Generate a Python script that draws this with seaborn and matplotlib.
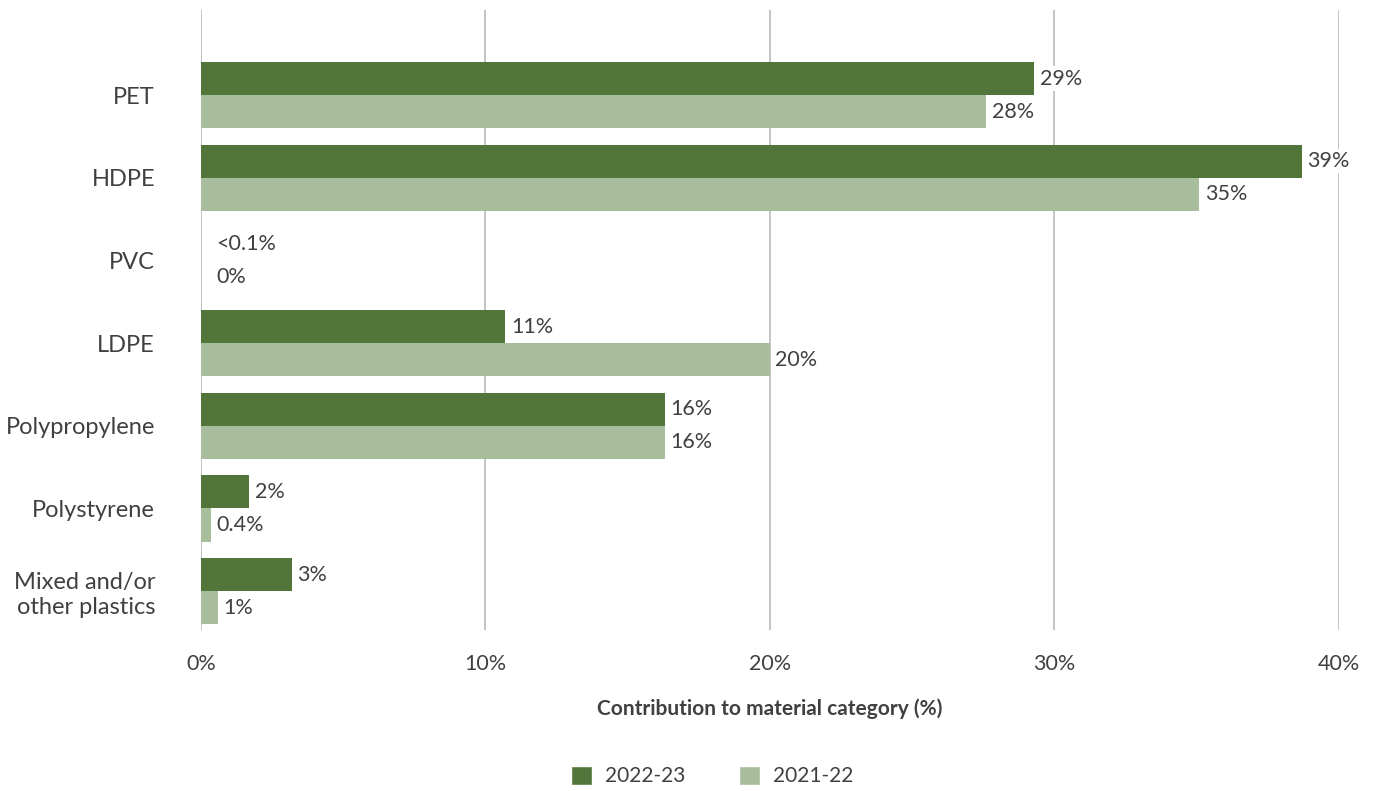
import numpy as np
import pandas as pd
import seaborn as sns
import matplotlib.pyplot as plt
from matplotlib.patches import Patch

categories = ["PET", "HDPE", "PVC", "LDPE", "Polypropylene", "Polystyrene",
              "Mixed and/or\nother plastics"]
vals_2223 = [29.3, 38.7, 0.0, 10.7, 16.3, 1.7, 3.2]
vals_2122 = [27.6, 35.1, 0.0, 20.0, 16.3, 0.35, 0.6]
labels_2223 = ["29%", "39%", "<0.1%", "11%", "16%", "2%", "3%"]
labels_2122 = ["28%", "35%", "0%", "20%", "16%", "0.4%", "1%"]
series = ["2022-23", "2021-22"]
xticks = [0, 10, 20, 30, 40]

dark = "#52763a"
light = "#a8bd9b"
txt = "#404040"

df = pd.DataFrame({
    "category": categories * 2,
    "value": vals_2223 + vals_2122,
    "period": [series[0]] * len(categories) + [series[1]] * len(categories),
})

sns.set_style("white")
plt.rcParams["font.family"] = ["Lato", "DejaVu Sans"]
plt.rcParams["text.color"] = txt

fig = plt.figure(figsize=(13.83, 7.91), dpi=100)
ax = fig.add_axes([0.1453, 0.2035, 0.8228, 0.784])

sns.barplot(data=df, y="category", x="value", hue="period", orient="h",
            palette=[dark, light], width=0.8, ax=ax, legend=False,
            saturation=1, errorbar=None, linewidth=0)

ax.set_xlim(0, 40)
ax.set_ylim(6.47, -1.03)
ax.set_xticks(xticks)
ax.set_xticklabels([f"{t}%" for t in xticks])
ax.xaxis.grid(True, color="#bfbfbf", linewidth=1.3)
ax.set_axisbelow(True)
for s in ax.spines.values():
    s.set_visible(False)
ax.tick_params(axis="both", length=0, labelcolor=txt)
ax.tick_params(axis="y", pad=33, labelsize=17)
ax.tick_params(axis="x", pad=17, labelsize=15.5)
ax.set_ylabel("")
ax.set_xlabel("Contribution to material category (%)", fontsize=15,
              fontweight="bold", color=txt, labelpad=18)

# value labels, white box behind so gridlines break
box = dict(facecolor="white", edgecolor="none", pad=1.5)
for cont, labs in zip(ax.containers, [labels_2223, labels_2122]):
    for bar, lab in zip(cont, labs):
        w = bar.get_width()
        yc = bar.get_y() + bar.get_height() / 2
        off = 4 if w > 0 else 11
        ax.annotate(lab, (w, yc), xytext=(off, 0), textcoords="offset points",
                    ha="left", va="center", fontsize=15.5, color=txt, bbox=box)

handles = [Patch(facecolor=dark, label=series[0]),
           Patch(facecolor=light, label=series[1])]
fig.legend(handles=handles, loc="lower center", bbox_to_anchor=(0.515, -0.018),
           ncol=2, frameon=False, fontsize=15, handlelength=1.0,
           handleheight=1.0, columnspacing=2.6, handletextpad=0.6)

fig.savefig("out.png", dpi=100)
